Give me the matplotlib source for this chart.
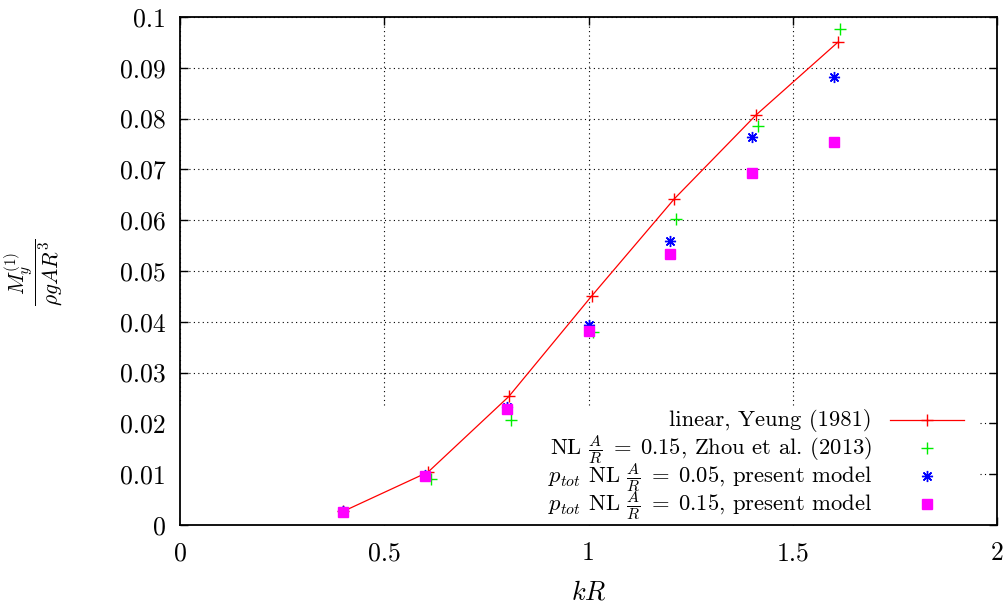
import matplotlib
matplotlib.use("Agg")
import matplotlib.pyplot as plt
from matplotlib.ticker import FuncFormatter, MultipleLocator
from matplotlib.patches import Rectangle

plt.rcParams["font.family"] = "serif"
plt.rcParams["font.serif"] = ["cmr10", "DejaVu Serif"]
plt.rcParams["mathtext.fontset"] = "cm"
plt.rcParams["axes.unicode_minus"] = False

# ----------------------------------------------------------------------
# Data
# ----------------------------------------------------------------------
kr_lin = [0.4, 0.607, 0.805, 1.008, 1.21, 1.41, 1.61]
m_lin = [0.0027, 0.0104, 0.0253, 0.0451, 0.0642, 0.0807, 0.0950]

kr_zhou = [0.614, 0.81, 1.012, 1.215, 1.415, 1.615]
m_zhou = [0.0090, 0.0207, 0.0380, 0.0602, 0.0785, 0.0976]

kr_p05 = [0.4, 0.6, 0.8, 1.0, 1.2, 1.4, 1.6]
m_p05 = [0.0028, 0.0099, 0.0232, 0.0394, 0.0560, 0.0764, 0.0881]

kr_p15 = [0.4, 0.6, 0.8, 1.0, 1.2, 1.4, 1.6]
m_p15 = [0.0026, 0.0097, 0.0228, 0.0382, 0.0533, 0.0693, 0.0753]

labels = [
    "linear, Yeung (1981)",
    r"NL $\frac{A}{R}\;=\;0.15$, Zhou et al. (2013)",
    r"$p_{tot}$ NL $\frac{A}{R}\;=\;0.05$, present model",
    r"$p_{tot}$ NL $\frac{A}{R}\;=\;0.15$, present model",
]

# gnuplot-like styles, one per series
STYLES = [
    dict(color="#ff0000", lw=0.9, marker="+", markersize=8, markeredgewidth=1.0),
    dict(color="#00ee00", ls="none", marker="+", markersize=8, markeredgewidth=1.0),
    dict(color="#0000ff", ls="none", marker=(8, 2, 0), markersize=8,
         markeredgewidth=1.0),
    dict(color="#ff00ff", ls="none", marker="s", markersize=6.5),
]

# ----------------------------------------------------------------------
# Figure
# ----------------------------------------------------------------------
fig = plt.figure(figsize=(10.08, 6.08), dpi=100)
ax = fig.add_axes([180 / 1008, 1 - 525 / 608, 817 / 1008, 508 / 608])

ax.set_xlim(0, 2)
ax.set_ylim(0, 0.1)
ax.xaxis.set_major_locator(MultipleLocator(0.5))
ax.yaxis.set_major_locator(MultipleLocator(0.01))
fmt = FuncFormatter(lambda v, _: "%g" % round(v, 6))
ax.xaxis.set_major_formatter(fmt)
ax.yaxis.set_major_formatter(fmt)

ax.tick_params(direction="in", length=6, width=1.0, top=True, right=True,
               labelsize=18.5)
ax.tick_params(axis="y", pad=10)
ax.tick_params(axis="x", pad=12)
for sp in ax.spines.values():
    sp.set_linewidth(1.3)

ax.grid(True, color="black", linestyle=(0, (1, 3)), linewidth=0.8, zorder=0)
ax.set_axisbelow(True)

# opaque key area (gnuplot draws it over the grid, under the data)
ax.add_patch(Rectangle((0, 0), 800 / 817, 119 / 508, transform=ax.transAxes,
                       facecolor="white", edgecolor="none", zorder=1))

ax.plot(kr_lin, m_lin, zorder=3, **STYLES[0])
ax.plot(kr_zhou, m_zhou, zorder=3, **STYLES[1])
ax.plot(kr_p05, m_p05, zorder=3, **STYLES[2])
ax.plot(kr_p15, m_p15, zorder=4, **STYLES[3])

# ----------------------------------------------------------------------
# Key (gnuplot style: right-aligned text, sample on the right)
# ----------------------------------------------------------------------
KEY_TEXT_X = 0.847
KEY_MARK_X = 0.914
KEY_LINE = (0.869, 0.960)
KEY_ROW0 = 0.2067
KEY_DY = 0.0551
for i, (lab, st) in enumerate(zip(labels, STYLES)):
    yrow = KEY_ROW0 - i * KEY_DY
    ax.text(KEY_TEXT_X, yrow - 0.0128, lab, transform=ax.transAxes,
            ha="right", va="baseline", fontsize=16.3, zorder=5)
    if st.get("ls") == "none":
        ax.plot([KEY_MARK_X], [yrow], transform=ax.transAxes,
                clip_on=False, zorder=5, **st)
    else:
        ax.plot(list(KEY_LINE), [yrow, yrow], transform=ax.transAxes,
                clip_on=False, zorder=5, color=st["color"], lw=st["lw"])
        ax.plot([KEY_MARK_X], [yrow], transform=ax.transAxes, clip_on=False,
                zorder=5, color=st["color"], marker=st["marker"],
                markersize=st["markersize"], markeredgewidth=st["markeredgewidth"])

ax.set_xlabel(r"$kR$", fontsize=19)
ax.xaxis.set_label_coords(0.5, -0.11)
fig.text(33 / 1008, 1 - 272 / 608, r"$\dfrac{M_y^{(1)}}{\rho g A R^3}$",
         rotation=90, ha="center", va="center", fontsize=15.5)

fig.savefig("out.png", dpi=100)
